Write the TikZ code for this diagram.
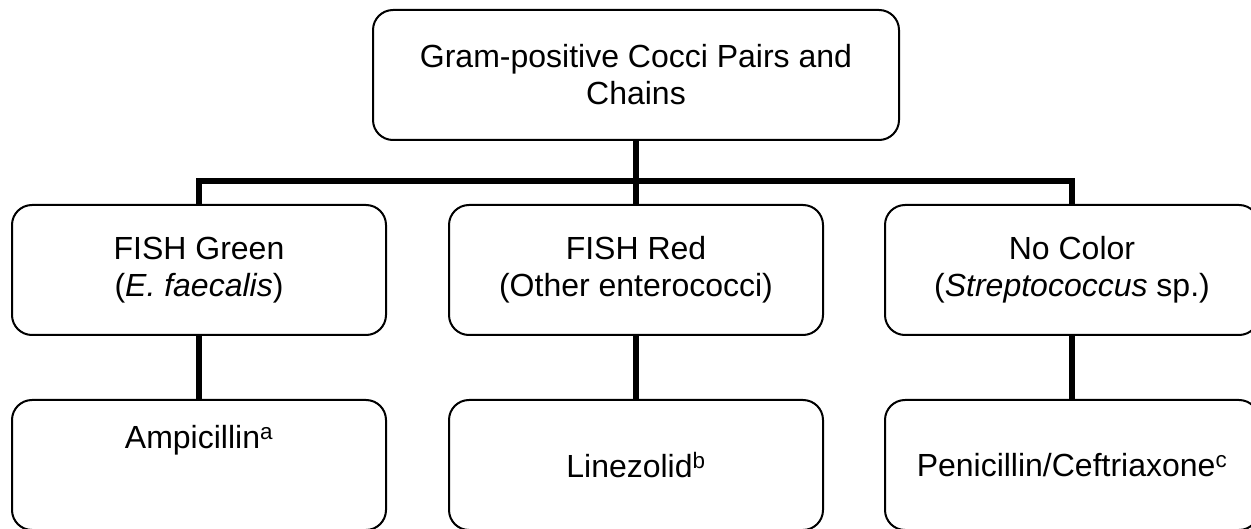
\documentclass[tikz,border=0pt]{standalone}
\usepackage{fontspec}
\setmainfont{Liberation Sans}
\tikzset{
  every picture/.style={line cap=round, line join=round},
  box/.style={draw, line width=2pt, rounded corners=20pt, align=center,
    minimum width=374pt, minimum height=130pt, inner sep=0pt,
    font=\fontsize{32}{37}\selectfont},
  link/.style={line width=6pt, line cap=butt, line join=miter},
}

\begin{document}
\begin{tikzpicture}[x=1pt, y=-1pt]
  \useasboundingbox (0,0) rectangle (1251,529);
  % root of the tree
  \node[box, minimum width=526pt] (root) at (636,75) {Gram-positive Cocci Pairs and\\Chains};
  % FISH result
  \node[box] (green) at (199,270) {FISH Green\\(\textit{E. faecalis})};
  \node[box] (red) at (636,270) {FISH Red\\(Other enterococci)};
  \node[box] (nocolor) at (1072,270) {No Color\\(\textit{Streptococcus} sp.)};
  % therapy
  \node[box, text depth=57pt] (ampi) at (199,465) {Ampicillin\textsuperscript{a}};
  \node[box] (linez) at (636,465) {Linezolid\textsuperscript{b}};
  \node[box] (peni) at (1072,465) {Penicillin/Ceftriaxone\textsuperscript{c}};
  % connectors
  \coordinate (bus) at (636,181);
  \draw[link] (root.south) -- (bus);
  \draw[link] (green.north) |- (bus) -| (nocolor.north);
  \draw[link] (bus) -- (red.north);
  \foreach \a/\b in {green/ampi, red/linez, nocolor/peni}
    \draw[link] (\a.south) -- (\b.north);
\end{tikzpicture}
\end{document}
